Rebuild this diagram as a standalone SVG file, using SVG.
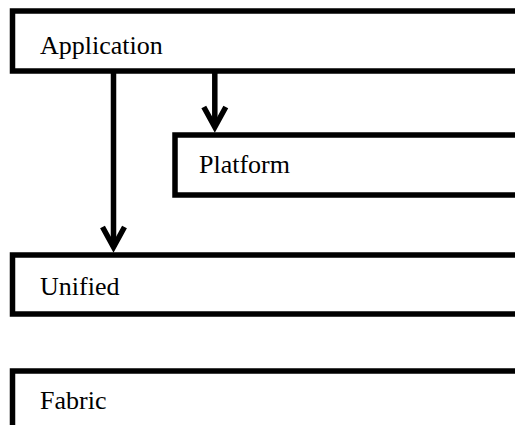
<svg xmlns="http://www.w3.org/2000/svg" width="515" height="425" viewBox="0 0 515 425">
  <style>
    .box { fill: #fff; stroke: #000; stroke-width: 5.5; }
    .label { font-family: "Liberation Serif", "Times New Roman", serif; font-size: 26px; fill: #000; }
    .link { fill: none; stroke: #000; stroke-width: 5.5; }
  </style>
  <defs>
    <!-- open chevron arrowhead, drawn in user units -->
    <marker id="head" markerUnits="userSpaceOnUse" viewBox="-30 -20 40 40" refX="0" refY="0"
            markerWidth="40" markerHeight="40" orient="auto" overflow="visible">
      <path d="M-20,-11 L0,0 L-20,11" fill="none" stroke="#000" stroke-width="5.5" stroke-linejoin="miter"/>
    </marker>
  </defs>

  <rect width="515" height="425" fill="#fff"/>

  <g id="application">
    <rect class="box" x="12.5" y="11" width="600" height="60"/>
    <text class="label" x="40" y="54">Application</text>
  </g>

  <g id="platform">
    <rect class="box" x="175" y="135" width="400" height="60"/>
    <text class="label" x="199" y="173">Platform</text>
  </g>

  <g id="unified">
    <rect class="box" x="12.5" y="255" width="600" height="59"/>
    <text class="label" x="40" y="295">Unified</text>
  </g>

  <g id="fabric">
    <rect class="box" x="12.5" y="371" width="600" height="100"/>
    <text class="label" x="40" y="409">Fabric</text>
  </g>

  <g id="connectors">
    <line class="link" x1="113.5" y1="71" x2="113.5" y2="247" marker-end="url(#head)"/>
    <line class="link" x1="214.8" y1="71" x2="214.8" y2="127" marker-end="url(#head)"/>
  </g>
</svg>
